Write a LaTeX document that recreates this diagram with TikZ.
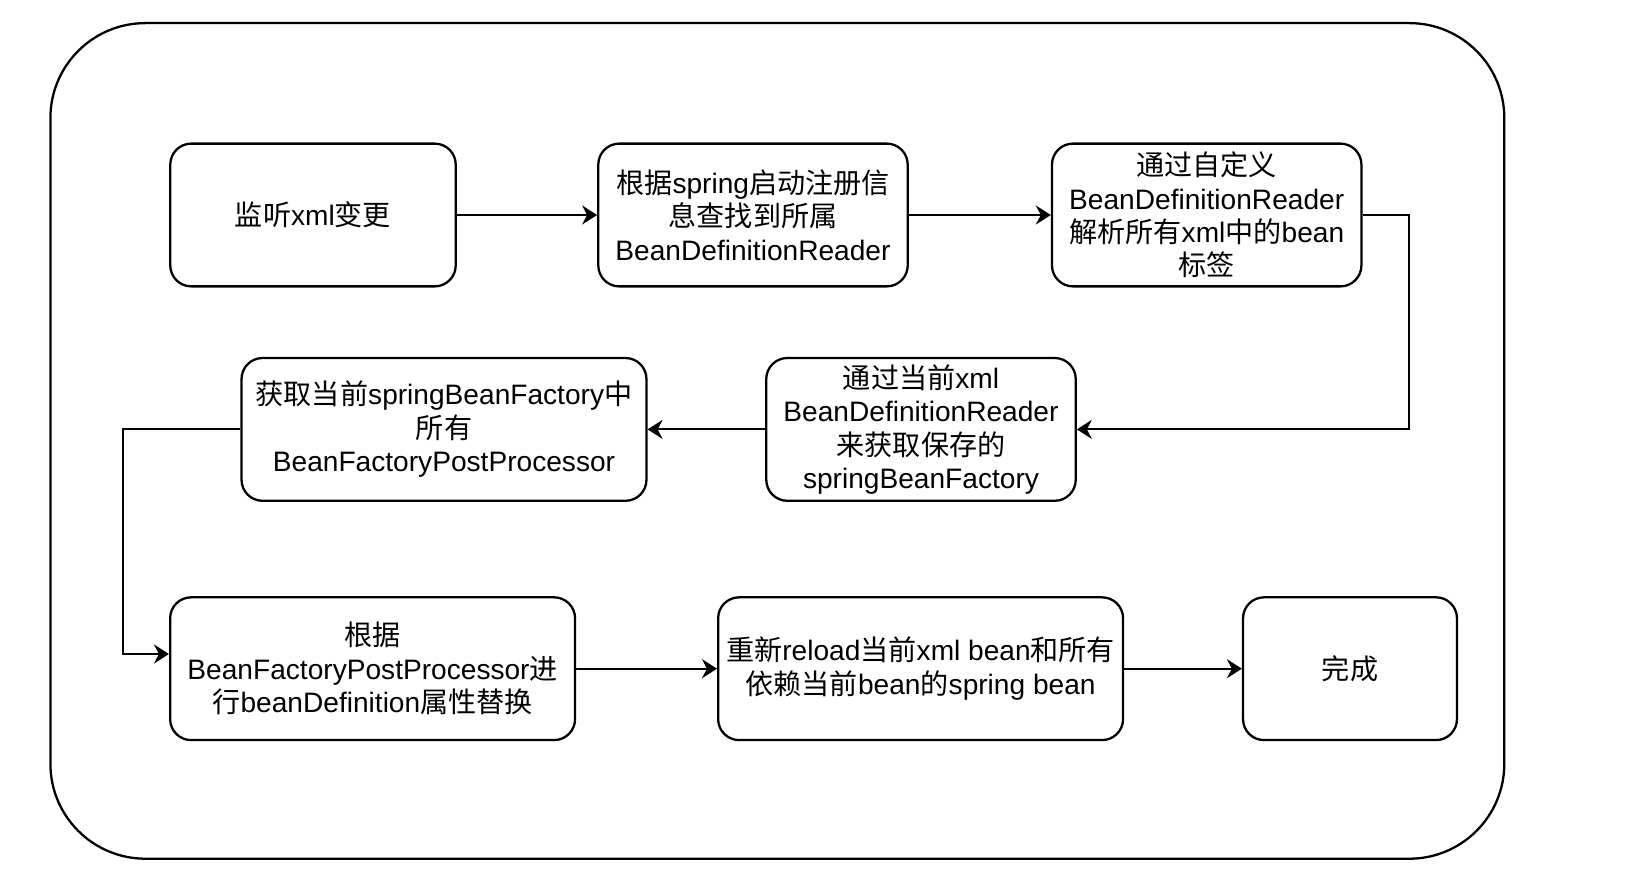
\documentclass[tikz,border=0pt]{standalone}
\usepackage{fontspec}
\setmainfont{Liberation Sans}
\newfontfamily\cjk{Noto Sans CJK SC}
\newcommand{\zh}[1]{{\cjk #1}}
\usetikzlibrary{arrows.meta,positioning,calc}

\begin{document}
\begin{tikzpicture}[x=0.02cm,y=-0.02cm,
  stepbox/.style={draw,line width=1.3pt,rounded corners=0.42cm,align=center,inner sep=0pt,
    minimum height=2.856cm,font=\fontsize{16}{19}\selectfont},
  flow/.style={-{Stealth[length=0.3cm,width=0.38cm,inset=0.1cm]},line width=1.1pt}]
  \useasboundingbox (0,0) rectangle (1646,872);
  \draw[line width=1.3pt,rounded corners=1.9cm] (50.4,23.1) rectangle (1504.3,858.7);
  \node[stepbox,minimum width=5.71cm] (listen) at (313,215) {\zh{监听}xml\zh{变更}};
  \node[stepbox,minimum width=6.19cm] (find) at (753,215) {\zh{根据}spring\zh{启动注册信}\\\zh{息查找到所属}\\BeanDefinitionReader};
  \node[stepbox,minimum width=6.19cm] (parse) at (1206.7,215) {\zh{通过自定义}\\BeanDefinitionReader\\\zh{解析所有}xml\zh{中的}bean\\\zh{标签}};
  \node[stepbox,minimum width=6.19cm] (factory) at (921,429.4) {\zh{通过当前}xml\\BeanDefinitionReader\\\zh{来获取保存的}\\springBeanFactory};
  \node[stepbox,minimum width=8.1cm] (post) at (444,429.4) {\zh{获取当前}springBeanFactory\zh{中}\\\zh{所有}\\BeanFactoryPostProcessor};
  \node[stepbox,minimum width=8.1cm] (replace) at (372.6,668.7) {\zh{根据}\\BeanFactoryPostProcessor\zh{进}\\\zh{行}beanDefinition\zh{属性替换}};
  \node[stepbox,minimum width=8.1cm] (reload) at (920.6,668.7) {\zh{重新}reload\zh{当前}xml bean\zh{和所有}\\\zh{依赖当前}bean\zh{的}spring bean};
  \node[stepbox,minimum width=4.28cm] (done) at (1350,668.7) {\zh{完成}};
  \draw[flow] (listen) -- (find);
  \draw[flow] (find) -- (parse);
  \draw[flow] (parse.east) -- (1408.7,215) |- (factory.east);
  \draw[flow] (factory) -- (post);
  \coordinate (entry) at ($(replace.west)+(0,-14.7)$);
  \draw[flow] (post.west) -- (122.8,429.4) |- (entry);
  \draw[flow] (replace) -- (reload);
  \draw[flow] (reload) -- (done);
\end{tikzpicture}
\end{document}
